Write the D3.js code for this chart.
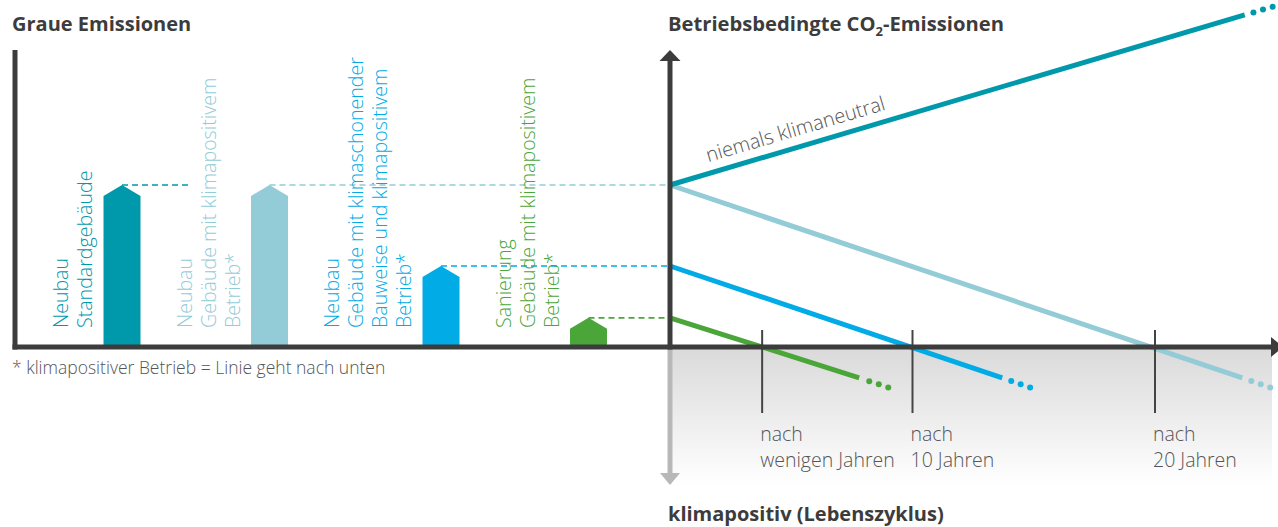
<!DOCTYPE html>
<html>
<head>
<meta charset="utf-8">
<script src="https://cdn.jsdelivr.net/npm/d3@7"></script>
<style>
  html, body { margin: 0; padding: 0; background: #fff; }
  svg { display: block; font-family: "Open Sans", "Noto Sans", sans-serif; }
</style>
</head>
<body>
<svg id="chart" width="1278" height="527"></svg>
<script>
// ---------- DATA ----------
const barCategories = ["Neubau Standard", "Neubau klimapositiv", "Neubau klimaschonend", "Sanierung"];
const barLabels = [
  ["Neubau", "Standardgebäude"],
  ["Neubau", "Gebäude mit klimapositivem", "Betrieb*"],
  ["Neubau", "Gebäude mit klimaschonender", "Bauweise und klimapositivem", "Betrieb*"],
  ["Sanierung", "Gebäude mit klimapositivem", "Betrieb*"]
];
const barValues = [100, 100, 50, 18];       // graue Emissionen (relativ)
const barColors = ["#0099ab", "#93cbd7", "#00abe6", "#4ba63a"];

// Betriebsbedingte Emissionen: [Jahr, Wert] – Start, Ende durchgezogen, Ende gepunktet
const lineTeal      = [[0, 100], [23.7, 205], [24.85, 210]];
const lineLightBlue = [[0, 100], [23.6, -19], [24.75, -25]];
const lineBlue      = [[0, 50],  [13.7, -19], [14.85, -25]];
const lineGreen     = [[0, 18],  [7.8, -19],  [9.0, -25]];
const lineSeries = [lineLightBlue, lineTeal, lineBlue, lineGreen];
const lineColors = ["#93cbd7", "#0099ab", "#00abe6", "#4ba63a"];

const tickYears = [3.8, 10, 20];
const tickLabels = [["nach", "wenigen Jahren"], ["nach", "10 Jahren"], ["nach", "20 Jahren"]];

const titleLeft = "Graue Emissionen";
const titleBottom = "klimapositiv (Lebenszyklus)";
const footnote = "* klimapositiver Betrieb = Linie geht nach unten";
const lineLabel = "niemals klimaneutral";

// ---------- LAYOUT ----------
const svg = d3.select("#chart");
const dark = "#3c3c3c";
const textGrey = "#555";
const baseY = 347;
const axisX = 670;

const y = d3.scaleLinear().domain([0, 100]).range([baseY, 185]);
const xYears = d3.scaleLinear().domain([0, 20]).range([axisX, 1155]);

// Bar group layout derived from the number of label lines
const lineStep = 24, barW = 37, toBar = 11.5, groupGap = 51;
let cursor = 0;
const groups = barLabels.map((lines, i) => {
  const first = cursor;
  const barLeft = first + lineStep * (lines.length - 1) + toBar;
  cursor = barLeft + barW + groupGap;
  return { first, barLeft, lines, value: barValues[i], color: barColors[i], cat: barCategories[i] };
});
const totalUnits = groups[groups.length - 1].barLeft + barW;
const xBars = d3.scaleLinear().domain([0, totalUnits]).range([68, 68 + totalUnits]);

// ---------- GRADIENT (klimapositiv area) ----------
const defs = svg.append("defs");
const grad = defs.append("linearGradient").attr("id", "g").attr("x1", 0).attr("y1", 0).attr("x2", 0).attr("y2", 1);
grad.append("stop").attr("offset", "0%").attr("stop-color", "#dadada");
grad.append("stop").attr("offset", "100%").attr("stop-color", "#ffffff");
svg.append("rect").attr("x", axisX + 2).attr("y", baseY + 2).attr("width", 1272 - axisX - 2).attr("height", 136)
  .attr("fill", "url(#g)");

// ---------- TITLES ----------
svg.append("text").attr("x", 12).attr("y", 31).attr("font-size", 20).attr("font-weight", 700)
  .attr("fill", dark).text(titleLeft);
const t2 = svg.append("text").attr("x", 668).attr("y", 31).attr("font-size", 20.2).attr("font-weight", 700).attr("fill", dark);
t2.append("tspan").text("Betriebsbedingte CO");
t2.append("tspan").attr("font-size", 13).attr("dy", 5).text("2");
t2.append("tspan").attr("dy", -5).text("-Emissionen");
svg.append("text").attr("x", 668).attr("y", 521).attr("font-size", 20).attr("font-weight", 700)
  .attr("fill", dark).text(titleBottom);

svg.append("text").attr("x", 12).attr("y", 374).attr("font-size", 17.5).attr("font-weight", 300)
  .attr("fill", textGrey).text(footnote);

// ---------- DASHED GUIDES ----------
groups.forEach((g, i) => {
  const cx = xBars(g.barLeft + barW / 2);
  // teal guide is covered by the light blue one further right
  const x2 = (i === 0) ? cx + 66 : axisX;
  svg.append("line").attr("x1", cx).attr("x2", x2).attr("y1", y(g.value)).attr("y2", y(g.value))
    .attr("stroke", g.color).attr("stroke-width", 1.6).attr("stroke-dasharray", "6 4");
});

// ---------- BARS (house shapes) ----------
groups.forEach(g => {
  const x0 = xBars(g.barLeft), x1 = xBars(g.barLeft + barW), cx = (x0 + x1) / 2;
  const top = y(g.value), shoulder = top + 11;
  svg.append("path")
    .attr("d", `M${x0},${baseY}L${x0},${shoulder}L${cx},${top}L${x1},${shoulder}L${x1},${baseY}Z`)
    .attr("fill", g.color);
  g.lines.forEach((ln, k) => {
    const bx = xBars(g.first + k * lineStep);
    svg.append("text")
      .attr("transform", `translate(${bx},328) rotate(-90)`)
      .attr("font-size", 19.6).attr("font-weight", 300).attr("fill", g.color)
      .text(ln);
  });
});

// ---------- LINES ----------
lineSeries.forEach((s, i) => {
  const p0 = [xYears(s[0][0]), y(s[0][1])];
  const p1 = [xYears(s[1][0]), y(s[1][1])];
  const p2 = [xYears(s[2][0]), y(s[2][1])];
  svg.append("path").attr("d", d3.line()([p0, p1])).attr("stroke", lineColors[i])
    .attr("stroke-width", 5).attr("fill", "none");
  const L = Math.hypot(p2[0] - p1[0], p2[1] - p1[1]);
  [L - 20, L - 10, L].forEach(dist => {
    const t = dist / L;
    svg.append("circle").attr("cx", p1[0] + (p2[0] - p1[0]) * t).attr("cy", p1[1] + (p2[1] - p1[1]) * t)
      .attr("r", 3).attr("fill", lineColors[i]);
  });
});

// label along teal line
{
  const a = [xYears(lineTeal[0][0]), y(lineTeal[0][1])];
  const b = [xYears(lineTeal[1][0]), y(lineTeal[1][1])];
  const ang = Math.atan2(b[1] - a[1], b[0] - a[0]) * 180 / Math.PI;
  const t = 0.072;
  const px = a[0] + (b[0] - a[0]) * t, py = a[1] + (b[1] - a[1]) * t;
  svg.append("text").attr("transform", `translate(${px},${py}) rotate(${ang}) translate(0,-11)`)
    .attr("font-size", 20).attr("font-weight", 300).attr("fill", textGrey).text(lineLabel);
}

// ---------- TICKS ----------
tickYears.forEach((yr, i) => {
  const tx = xYears(yr);
  svg.append("line").attr("x1", tx).attr("x2", tx).attr("y1", 330).attr("y2", 413)
    .attr("stroke", "#444").attr("stroke-width", 2);
  tickLabels[i].forEach((ln, k) => {
    svg.append("text").attr("x", tx - 2).attr("y", 441 + k * 26).attr("font-size", 19.5)
      .attr("font-weight", 300).attr("fill", textGrey).text(ln);
  });
});

// ---------- AXES ----------
// down arrow (grey)
svg.append("line").attr("x1", axisX).attr("x2", axisX).attr("y1", baseY).attr("y2", 475)
  .attr("stroke", "#b8b8b8").attr("stroke-width", 5);
svg.append("path").attr("d", `M${axisX - 10},473L${axisX},485L${axisX + 10},473Z`).attr("fill", "#b8b8b8");
// left axis
svg.append("line").attr("x1", 15).attr("x2", 15).attr("y1", 50).attr("y2", baseY + 2.5)
  .attr("stroke", dark).attr("stroke-width", 5);
// baseline
svg.append("line").attr("x1", 12.5).attr("x2", 1272).attr("y1", baseY).attr("y2", baseY)
  .attr("stroke", dark).attr("stroke-width", 5);
svg.append("path").attr("d", `M1271,${baseY - 10}L1283,${baseY}L1271,${baseY + 10}Z`).attr("fill", dark);
// right vertical axis with arrow up
svg.append("line").attr("x1", axisX).attr("x2", axisX).attr("y1", 60).attr("y2", baseY + 2.5)
  .attr("stroke", dark).attr("stroke-width", 5);
svg.append("path").attr("d", `M${axisX - 10.5},61L${axisX},50L${axisX + 10.5},61Z`).attr("fill", dark);
</script>
</body>
</html>
